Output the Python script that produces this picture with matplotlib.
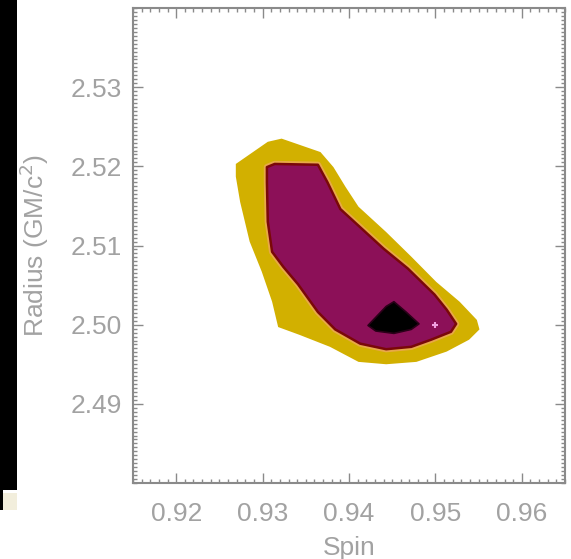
import matplotlib
matplotlib.use("Agg")
import matplotlib.pyplot as plt
from matplotlib.patches import Polygon, Rectangle
from matplotlib.ticker import MultipleLocator

# ---- data (spin, radius) ----
outer_spin = [0.9269, 0.9306, 0.9322, 0.9367, 0.9382, 0.9396, 0.9411, 0.9443, 0.9472,
              0.9501, 0.9528, 0.9548, 0.9551, 0.9539, 0.9513, 0.9478, 0.9443, 0.9411,
              0.9378, 0.9343, 0.9318, 0.9311, 0.9299, 0.9285, 0.9274, 0.9269]
outer_radius = [2.5203, 2.5231, 2.5235, 2.5218, 2.5199, 2.5174, 2.5149, 2.5117, 2.5086,
                2.5054, 2.5029, 2.5006, 2.4994, 2.4981, 2.4966, 2.4953, 2.4950, 2.4953,
                2.4972, 2.4987, 2.4997, 2.5029, 2.5067, 2.5105, 2.5155, 2.5187]

mid_spin = [0.9305, 0.9314, 0.9364, 0.9375, 0.9390, 0.9410, 0.9440, 0.9468, 0.9499,
            0.9513, 0.9524, 0.9518, 0.9495, 0.9472, 0.9443, 0.9413, 0.9384, 0.9364,
            0.9341, 0.9324, 0.9311, 0.9306, 0.9305]
mid_radius = [2.5199, 2.5203, 2.5202, 2.5180, 2.5146, 2.5126, 2.5096, 2.5071, 2.5038,
              2.5019, 2.5001, 2.4991, 2.4981, 2.4972, 2.4969, 2.4976, 2.4994, 2.5016,
              2.5051, 2.5073, 2.5092, 2.5130, 2.5180]

inner_spin = [0.9422, 0.9443, 0.9452, 0.9466, 0.9481, 0.9472, 0.9452, 0.9431]
inner_radius = [2.4999, 2.5023, 2.5029, 2.5016, 2.5001, 2.4994, 2.4989, 2.4992]

best_spin = [0.950]
best_radius = [2.500]

x_ticks = [0.92, 0.93, 0.94, 0.95, 0.96]
y_ticks = [2.49, 2.50, 2.51, 2.52, 2.53]
x_label = "Spin"
y_label = "Radius (GM/c$^2$)"

# ---- figure ----
W, H = 571, 559
fig = plt.figure(figsize=(W / 100, H / 100), dpi=100)
ax = fig.add_axes([133 / W, 1 - 483 / H, (565 - 133) / W, (483 - 8) / H])

gray = "#8a8a8a"
txt = "#a2a2a2"
ax.add_patch(Polygon(list(zip(outer_spin, outer_radius)), closed=True,
                     facecolor="#d2b000", edgecolor="none", zorder=1))
ax.add_patch(Polygon(list(zip(mid_spin, mid_radius)), closed=True,
                     facecolor="none", edgecolor="#e8a848", lw=4.5, zorder=2,
                     joinstyle="round"))
ax.add_patch(Polygon(list(zip(mid_spin, mid_radius)), closed=True,
                     facecolor="#8c1058", edgecolor="#7a0808", lw=1.8, zorder=3,
                     joinstyle="round"))
ax.add_patch(Polygon(list(zip(inner_spin, inner_radius)), closed=True,
                     facecolor="black", edgecolor="#2a0018", lw=1.2, zorder=4,
                     joinstyle="round"))
ax.plot(best_spin, best_radius, marker="+", ms=5, mew=1.5, color="#f0a0e0",
        ls="none", zorder=5)

ax.set_xlim(0.915, 0.965)
ax.set_ylim(2.48, 2.54)
ax.set_xticks(x_ticks)
ax.set_yticks(y_ticks)
ax.set_xticklabels([f"{v:.2f}" for v in x_ticks])
ax.set_yticklabels([f"{v:.2f}" for v in y_ticks])
ax.xaxis.set_minor_locator(MultipleLocator(0.001))
ax.yaxis.set_minor_locator(MultipleLocator(0.0005))

font = "Liberation Sans"
fs = 19
ax.tick_params(which="both", direction="in", top=True, right=True, color=gray,
               labelcolor=txt, labelsize=fs)
ax.tick_params(which="major", length=7, width=1)
ax.tick_params(which="minor", length=3, width=1)
ax.tick_params(axis="x", which="major", pad=14)
ax.tick_params(axis="y", which="major", pad=8)
for lab in ax.get_xticklabels() + ax.get_yticklabels():
    lab.set_fontfamily(font)
for s in ax.spines.values():
    s.set_color(gray)
    s.set_linewidth(1.5)

ax.set_xlabel(x_label, fontsize=fs, color=txt, family=font, labelpad=7)
ax.set_ylabel(y_label, fontsize=fs, color=txt, family=font, labelpad=14)

# left black strip and small square from the scanned original
fig.patches.append(Rectangle((0, 1 - 490 / H), 17 / W, 490 / H, transform=fig.transFigure,
                             facecolor="black", edgecolor="none", zorder=0))
fig.patches.append(Rectangle((0, 1 - 510 / H), 3 / W, 20 / H, transform=fig.transFigure,
                             facecolor="black", edgecolor="none", zorder=0))
fig.patches.append(Rectangle((3 / W, 1 - 510 / H), 14 / W, 17 / H, transform=fig.transFigure,
                             facecolor="#f2eedc", edgecolor="none", zorder=0))

fig.savefig("out.png", dpi=100)
